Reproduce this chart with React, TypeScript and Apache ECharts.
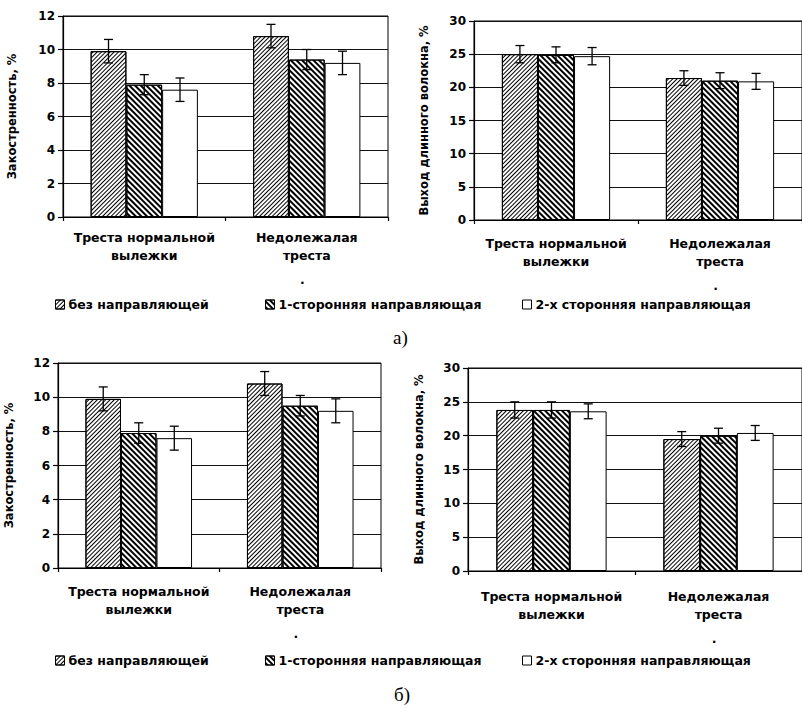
import React, { useEffect, useRef } from "react";
import * as echarts from "echarts";

// ---------- data ----------
const categories = ["Треста нормальной\nвылежки", "Недолежалая\nтреста\n{d|.  }"];
const seriesNames = ["без направляющей", "1-сторонняя направляющая", "2-х сторонняя направляющая"];

const yNameZak = "Закостренность, %";
const yNameVyh = "Выход длинного волокна, %";

// panel а) left – закостренность
const zakA_s1 = [9.9, 10.8];
const zakA_s2 = [7.9, 9.4];
const zakA_s3 = [7.6, 9.2];
const zakA_e1 = [0.7, 0.7];
const zakA_e2 = [0.6, 0.6];
const zakA_e3 = [0.7, 0.7];

// panel а) right – выход длинного волокна
const vyhA_s1 = [25.0, 21.4];
const vyhA_s2 = [24.9, 21.0];
const vyhA_s3 = [24.7, 20.9];
const vyhA_e1 = [1.3, 1.1];
const vyhA_e2 = [1.2, 1.2];
const vyhA_e3 = [1.3, 1.2];

// panel б) left
const zakB_s1 = [9.9, 10.8];
const zakB_s2 = [7.9, 9.5];
const zakB_s3 = [7.6, 9.2];
const zakB_e1 = [0.7, 0.7];
const zakB_e2 = [0.6, 0.6];
const zakB_e3 = [0.7, 0.7];

// panel б) right
const vyhB_s1 = [23.8, 19.5];
const vyhB_s2 = [23.8, 20.0];
const vyhB_s3 = [23.6, 20.4];
const vyhB_e1 = [1.2, 1.1];
const vyhB_e2 = [1.2, 1.1];
const vyhB_e3 = [1.1, 1.1];

const zakTicks = { min: 0, max: 12, interval: 2 };
const vyhTicks = { min: 0, max: 30, interval: 5 };

const captions = ["а)", "б)"];

// ---------- styles ----------
const SANS = '"DejaVu Sans", sans-serif';
const GAP_RATIO = 0.34;

const decals: any[] = [
  { symbol: "rect", symbolSize: 1, dashArrayX: [1, 0], dashArrayY: [1, 2], rotation: -Math.PI / 4, color: "#000" },
  { symbol: "rect", symbolSize: 1, dashArrayX: [1, 0], dashArrayY: [2, 2], rotation: Math.PI / 4, color: "#000" },
  null,
];

const grids = [
  { left: 63, top: 16, width: 325, height: 201, labelMargin: 11, nameGap: 45 },
  { left: 474, top: 21, width: 342, height: 199, labelMargin: 14, nameGap: 44 },
  { left: 58, top: 363, width: 323, height: 205, labelMargin: 14, nameGap: 43 },
  { left: 468, top: 368, width: 338, height: 203, labelMargin: 16, nameGap: 43 },
];

const panels = [
  { vals: [zakA_s1, zakA_s2, zakA_s3], errs: [zakA_e1, zakA_e2, zakA_e3], ticks: zakTicks, name: yNameZak },
  { vals: [vyhA_s1, vyhA_s2, vyhA_s3], errs: [vyhA_e1, vyhA_e2, vyhA_e3], ticks: vyhTicks, name: yNameVyh },
  { vals: [zakB_s1, zakB_s2, zakB_s3], errs: [zakB_e1, zakB_e2, zakB_e3], ticks: zakTicks, name: yNameZak },
  { vals: [vyhB_s1, vyhB_s2, vyhB_s3], errs: [vyhB_e1, vyhB_e2, vyhB_e3], ticks: vyhTicks, name: yNameVyh },
];

function buildOption() {
  const grid: any[] = [];
  const xAxis: any[] = [];
  const yAxis: any[] = [];
  const series: any[] = [];

  panels.forEach((p, gi) => {
    const g = grids[gi];
    grid.push({
      left: g.left,
      top: g.top,
      width: g.width,
      height: g.height,
      show: true,
      borderColor: "#000",
      borderWidth: 1,
      backgroundColor: "transparent",
    });
    xAxis.push({
      type: "category",
      gridIndex: gi,
      data: categories,
      axisLine: { show: true, lineStyle: { color: "#000", width: 1.2 } },
      axisTick: { show: true, length: 4, alignWithLabel: false, lineStyle: { color: "#000", width: 1.2 } },
      axisLabel: {
        interval: 0,
        color: "#000",
        fontFamily: SANS,
        fontWeight: "bold",
        fontSize: 12.5,
        lineHeight: 18,
        margin: g.labelMargin,
        rich: {
          d: { color: "#000", fontFamily: SANS, fontWeight: "bold", fontSize: 12.5, lineHeight: 30 },
        },
      },
      splitLine: { show: false },
    });
    yAxis.push({
      type: "value",
      gridIndex: gi,
      min: p.ticks.min,
      max: p.ticks.max,
      interval: p.ticks.interval,
      name: p.name,
      nameLocation: "middle",
      nameGap: g.nameGap,
      nameRotate: 90,
      nameTextStyle: { color: "#000", fontFamily: SANS, fontWeight: "bold", fontSize: 11.5 },
      axisLine: { show: true, lineStyle: { color: "#000", width: 1.2 } },
      axisTick: { show: true, length: 5, lineStyle: { color: "#000", width: 1.2 } },
      axisLabel: { color: "#000", fontFamily: SANS, fontWeight: "bold", fontSize: 12, margin: 8 },
      splitLine: { show: true, lineStyle: { color: "#111", width: 1.2 } },
    });

    p.vals.forEach((vals, k) => {
      const itemStyle: any = { color: "#fff", borderColor: "#000", borderWidth: 1 };
      if (decals[k]) itemStyle.decal = decals[k];
      series.push({
        type: "bar",
        name: seriesNames[k],
        xAxisIndex: gi,
        yAxisIndex: gi,
        data: vals,
        barGap: "0%",
        barCategoryGap: GAP_RATIO * 100 + "%",
        itemStyle,
        emphasis: { disabled: true },
        z: 2,
      });
    });

    p.vals.forEach((vals, k) => {
      const errs = p.errs[k];
      series.push({
        type: "custom",
        xAxisIndex: gi,
        yAxisIndex: gi,
        z: 5,
        silent: true,
        encode: { x: 0, y: 1 },
        data: vals.map((v, ci) => [ci, v, errs[ci]]),
        renderItem: (params: any, api: any) => {
          const ci = api.value(0);
          const v = api.value(1);
          const e = api.value(2);
          const base = api.coord([ci, v]);
          const band = api.size([1, 0])[0];
          const bw = (band * (1 - GAP_RATIO)) / 3;
          const x = base[0] + (k - 1) * bw;
          const yTop = api.coord([ci, v + e])[1];
          const yBot = api.coord([ci, v - e])[1];
          const cap = 4.5;
          const st = { stroke: "#000", lineWidth: 1.3 };
          return {
            type: "group",
            children: [
              { type: "line", shape: { x1: x, y1: yTop, x2: x, y2: yBot }, style: st },
              { type: "line", shape: { x1: x - cap, y1: yTop, x2: x + cap, y2: yTop }, style: st },
              { type: "line", shape: { x1: x - cap, y1: yBot, x2: x + cap, y2: yBot }, style: st },
            ],
          };
        },
      });
    });
  });

  const legendX = [55, 265, 522];
  const legendY = [298, 654];
  const legend: any[] = [];
  legendY.forEach((ly) => {
    seriesNames.forEach((n, k) => {
      legend.push({
        data: [n],
        left: legendX[k],
        top: ly,
        icon: "rect",
        itemWidth: 9,
        itemHeight: 9,
        padding: 0,
        selectedMode: false,
        itemStyle: { borderColor: "#000", borderWidth: 1 },
        textStyle: { color: "#000", fontFamily: SANS, fontWeight: "bold", fontSize: 12.5, padding: [0, 0, 0, -1] },
      });
    });
  });

  const graphic = [
    {
      type: "text",
      left: 393,
      top: 328,
      style: { text: captions[0], font: '19px "Liberation Serif", serif', fill: "#000" },
    },
    {
      type: "text",
      left: 394,
      top: 685,
      style: { text: captions[1], font: '19px "Liberation Serif", serif', fill: "#000" },
    },
  ];

  return {
    animation: false,
    backgroundColor: "#fff",
    grid,
    xAxis,
    yAxis,
    series,
    legend,
    graphic,
  };
}

export default function App() {
  const ref = useRef<HTMLDivElement>(null);
  useEffect(() => {
    if (!ref.current) return;
    const chart = echarts.init(ref.current, null, { renderer: "svg" });
    chart.setOption(buildOption() as any);
    return () => chart.dispose();
  }, []);
  return (
    <div
      ref={ref}
      style={{ position: "fixed", left: 0, top: 0, width: 802, height: 708, background: "#fff" }}
    />
  );
}
